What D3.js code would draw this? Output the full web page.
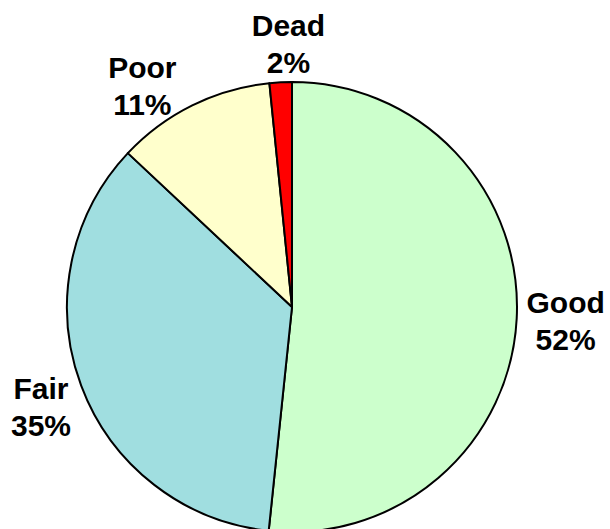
<!DOCTYPE html>
<html>
<head>
<meta charset="utf-8">
<script src="https://cdn.jsdelivr.net/npm/d3@7"></script>
<style>
  body { margin: 0; background: #fff; }
  svg { display: block; }
</style>
</head>
<body>
<div id="chart"></div>
<script>
// Slice data (clockwise from 12 o'clock)
const categories = ["Good", "Fair", "Poor", "Dead"];
const values = [51.6, 35.3, 11.4, 1.6];
const pctLabels = ["52%", "35%", "11%", "2%"];
const colors = ["#CCFFCC", "#A0DEE0", "#FFFFCC", "#FF0000"];

const width = 610, height = 529;
const cx = 292, cy = 307, radius = 225;

const svg = d3.select("#chart")
    .append("svg")
    .attr("width", width)
    .attr("height", height);

const g = svg.append("g")
    .attr("transform", `translate(${cx},${cy})`);

const pie = d3.pie().sort(null).value(d => d.value);
const arc = d3.arc().innerRadius(0).outerRadius(radius);

const data = categories.map((c, i) => ({
    name: c, value: values[i], pct: pctLabels[i], color: colors[i]
}));
const arcs = pie(data);

// Slices
g.selectAll("path")
    .data(arcs)
    .enter().append("path")
    .attr("d", arc)
    .attr("fill", d => d.data.color)
    .attr("stroke", "#000")
    .attr("stroke-width", 2)
    .attr("stroke-linejoin", "round");

// Labels: two lines, placed outside the rim along each slice's mid angle
const fontSize = 30, lineGap = 37;
const boxW = 70, boxH = 58;
const labelR = radius + 10;
// manual nudges, like the dragged labels in the original
const nudge = {Good: [4, 0], Poor: [-30, 15], Fair: [2, 7], Dead: [10, 0]};

arcs.forEach(d => {
    const a = (d.startAngle + d.endAngle) / 2;
    const s = Math.sin(a), c = Math.cos(a);
    const n = nudge[d.data.name] || [0, 0];
    const x = labelR * s + s * boxW / 2 + n[0];
    const y = -labelR * c - c * boxH / 2 + n[1];

    const t = g.append("text")
        .attr("text-anchor", "middle")
        .style("font-family", "Arial, 'Liberation Sans', sans-serif")
        .style("font-weight", "bold")
        .style("font-size", fontSize + "px")
        .attr("fill", "#000");

    t.append("tspan")
        .attr("x", x)
        .attr("y", y - lineGap / 2 + fontSize * 0.36)
        .text(d.data.name);

    t.append("tspan")
        .attr("x", x)
        .attr("y", y + lineGap / 2 + fontSize * 0.36)
        .text(d.data.pct);
});
</script>
</body>
</html>
